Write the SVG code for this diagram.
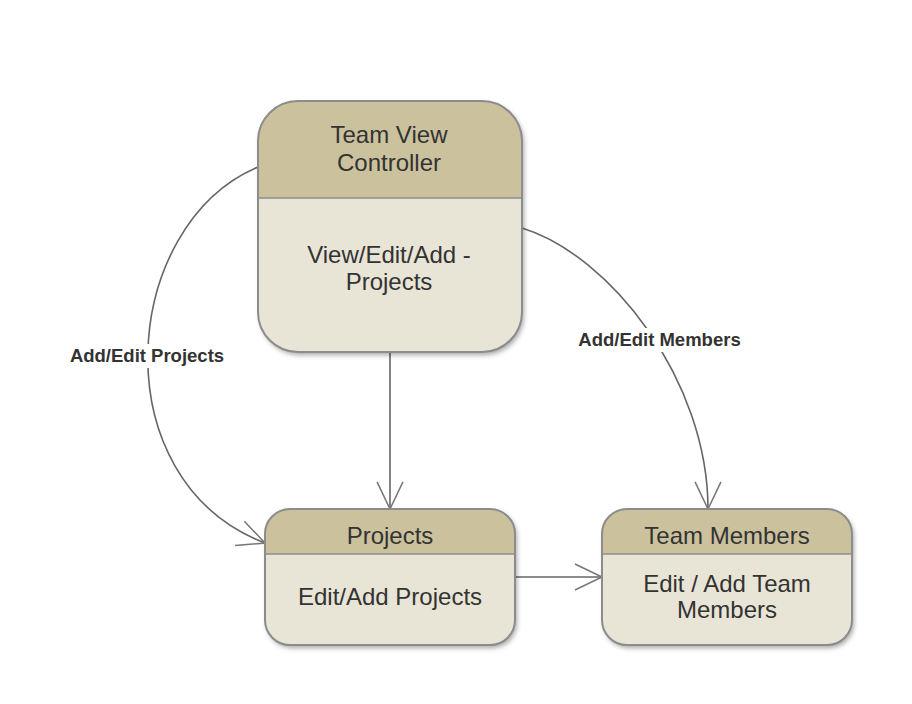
<svg xmlns="http://www.w3.org/2000/svg" width="912" height="704" viewBox="0 0 912 704">
<defs>
<style>
.body{fill:#e8e5d6;}
.head{fill:#cbc29d;}
.frame{fill:none;stroke:#8c8c8c;stroke-width:2;}
.div{stroke:#8c8c8c;stroke-width:1.5;}
.t{font-family:"Liberation Sans",Arial,sans-serif;font-size:24px;fill:#333;text-anchor:middle;}
.lbl{font-family:"Liberation Sans",Arial,sans-serif;font-size:18.5px;font-weight:bold;fill:#333;text-anchor:middle;}
.edge{fill:none;stroke:#666;stroke-width:1.6;}
</style>
<filter id="sh" x="-10%" y="-10%" width="130%" height="130%">
<feDropShadow dx="2" dy="3" stdDeviation="2.5" flood-color="#000" flood-opacity="0.35"/>
</filter>
<marker id="arr" markerUnits="userSpaceOnUse" markerWidth="40" markerHeight="40" viewBox="-30 -15 34 30" refX="0" refY="0" orient="auto">
<path d="M-23,-11 L0,0 L-23,11" fill="none" stroke="#777" stroke-width="1.3"/>
</marker>
</defs>
<g id="connectors">
<path class="edge" d="M258,167 C120,225 100,480 265,543" marker-end="url(#arr)"/>
<path class="edge" d="M390,352 V509" marker-end="url(#arr)"/>
<path class="edge" d="M522,228 C610,255 708,380 708,509" marker-end="url(#arr)"/>
<path class="edge" d="M515,577 H602" marker-end="url(#arr)"/>
<rect x="64" y="344" width="166" height="24" fill="#fff"/>
<text class="lbl" x="147" y="362">Add/Edit Projects</text>
<rect x="572" y="328" width="175" height="24" fill="#fff"/>
<text class="lbl" x="659.5" y="346">Add/Edit Members</text>
</g>
<g id="team-view-controller">
<rect x="258" y="101" width="264" height="251" rx="40" class="body" filter="url(#sh)"/>
<path class="head" d="M258,198 V141 A40,40 0 0 1 298,101 H482 A40,40 0 0 1 522,141 V198 Z"/>
<line class="div" x1="258" y1="198" x2="522" y2="198"/>
<rect x="258" y="101" width="264" height="251" rx="40" class="frame"/>
<text class="t" x="389" y="143">Team View</text>
<text class="t" x="389" y="171">Controller</text>
<text class="t" x="389" y="263">View/Edit/Add -</text>
<text class="t" x="389" y="290">Projects</text>
</g>
<g id="projects">
<rect x="265" y="509" width="250" height="136" rx="25" class="body" filter="url(#sh)"/>
<path class="head" d="M265,554 V534 A25,25 0 0 1 290,509 H490 A25,25 0 0 1 515,534 V554 Z"/>
<line class="div" x1="265" y1="554" x2="515" y2="554"/>
<rect x="265" y="509" width="250" height="136" rx="25" class="frame"/>
<text class="t" x="390" y="544">Projects</text>
<text class="t" x="390" y="605">Edit/Add Projects</text>
</g>
<g id="team-members">
<rect x="602" y="509" width="250" height="136" rx="25" class="body" filter="url(#sh)"/>
<path class="head" d="M602,554 V534 A25,25 0 0 1 627,509 H827 A25,25 0 0 1 852,534 V554 Z"/>
<line class="div" x1="602" y1="554" x2="852" y2="554"/>
<rect x="602" y="509" width="250" height="136" rx="25" class="frame"/>
<text class="t" x="727" y="544">Team Members</text>
<text class="t" x="727" y="592">Edit / Add Team</text>
<text class="t" x="727" y="618">Members</text>
</g>
</svg>
